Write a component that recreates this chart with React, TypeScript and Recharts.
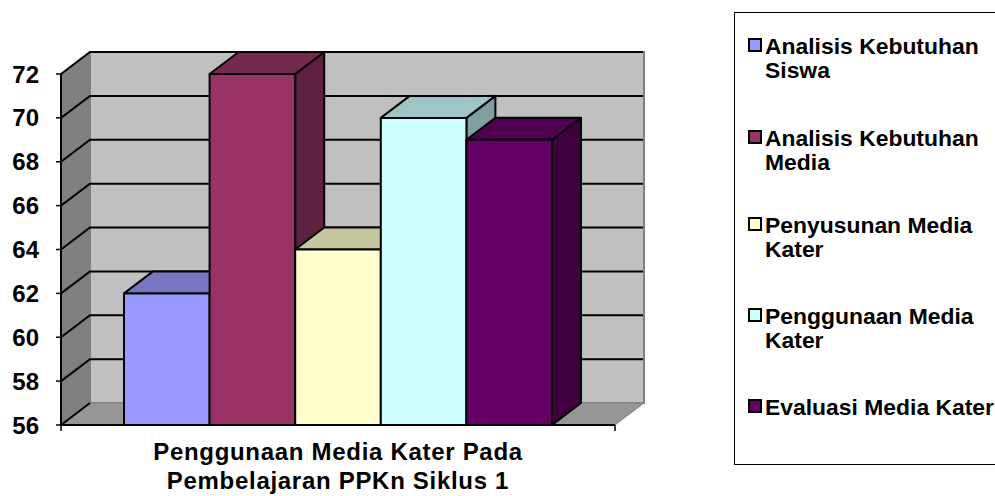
import { BarChart, Bar, XAxis, YAxis, Legend, ReferenceArea, ReferenceLine } from "recharts";

const categoryLines = ["Penggunaan Media Kater Pada", "Pembelajaran PPKn Siklus 1"];
const category = categoryLines.join(" ");
const seriesNames = [
  "Analisis Kebutuhan Siswa",
  "Analisis Kebutuhan Media",
  "Penyusunan Media Kater",
  "Penggunaan Media Kater",
  "Evaluasi Media Kater",
];
const seriesValues = [62, 72, 64, 70, 69];
const seriesColors = ["#9999ff", "#993366", "#ffffcc", "#ccffff", "#660066"];
const topColors = ["#7777c6", "#772850", "#c6c69f", "#9fc6c6", "#4f004f"];
const sideColors = ["#60609f", "#602040", "#a0a080", "#80a0a0", "#400040"];
const yTicks = [56, 58, 60, 62, 64, 66, 68, 70, 72];

const DX = 29;
const DY = 22;
const FONT = "'Liberation Sans', Arial, sans-serif";

const row: Record<string, string | number> = { name: category };
seriesNames.forEach((n, i) => (row[n] = seriesValues[i]));
const data = [row];

// front face plus the top and side faces of the fake 3D box
const makeBox = (i: number) => (props: any) => {
  const { x, y, width, height } = props;
  const r = x + width;
  const b = y + height;
  return (
    <g stroke="#000" strokeWidth={2} strokeLinejoin="round">
      <polygon points={`${r},${y} ${r + DX},${y - DY} ${r + DX},${b - DY} ${r},${b}`} fill={sideColors[i]} />
      <polygon points={`${x},${y} ${x + DX},${y - DY} ${r + DX},${y - DY} ${r},${y}`} fill={topColors[i]} />
      <rect x={x} y={y} width={width} height={height} fill={seriesColors[i]} />
    </g>
  );
};

const Walls = (props: any) => {
  const { x, y, width, height } = props;
  const r = x + width;
  const b = y + height;
  return (
    <g>
      <polygon
        points={`${x + DX},${y - DY} ${r + DX},${y - DY} ${r + DX},${b - DY} ${x + DX},${b - DY}`}
        fill="#c0c0c0"
        stroke="#808080"
        strokeWidth={2}
      />
      <polygon points={`${x},${y} ${x + DX},${y - DY} ${x + DX},${b - DY} ${x},${b}`} fill="#808080" />
      <polygon points={`${x},${b} ${x + DX},${b - DY} ${r + DX},${b - DY} ${r},${b}`} fill="#969696" stroke="#808080" />
      <line x1={x} y1={b} x2={x + DX} y2={b - DY} stroke="#000" strokeWidth={2} />
      <line x1={x} y1={b} x2={x} y2={b + 6} stroke="#000" strokeWidth={1.5} />
      <line x1={r} y1={b} x2={r} y2={b + 6} stroke="#000" strokeWidth={1.5} />
    </g>
  );
};

const GridLine = (props: any) => {
  const { x1, y1, x2 } = props;
  return (
    <polyline
      points={`${x1},${y1} ${x1 + DX},${y1 - DY} ${x2 + DX - 1},${y1 - DY}`}
      fill="none"
      stroke="#000"
      strokeWidth={2}
    />
  );
};

const CategoryTick = (props: any) => {
  const { x, y } = props;
  return (
    <text
      x={x}
      y={y}
      textAnchor="middle"
      fontFamily={FONT}
      fontWeight="bold"
      fontSize={24}
      letterSpacing={0.7}
      fill="#000"
    >
      {categoryLines.map((line, i) => (
        <tspan key={line} x={x} dy={i === 0 ? 27 : 29}>
          {line}
        </tspan>
      ))}
    </text>
  );
};

const legendRows = [
  ["Analisis Kebutuhan", "Siswa"],
  ["Analisis Kebutuhan", "Media"],
  ["Penyusunan Media", "Kater"],
  ["Penggunaan Media", "Kater"],
  ["Evaluasi Media Kater"],
];
const legendTops = [33, 125, 212, 303, 394];

const LegendBox = (props: any) => {
  const payload = props.payload ?? [];
  return (
    <div
      style={{
        position: "relative",
        width: 300,
        height: 453,
        boxSizing: "border-box",
        border: "1.5px solid #000",
        fontFamily: FONT,
        fontWeight: "bold",
        fontSize: 22.9,
        lineHeight: "24px",
        color: "#000",
      }}
    >
      {payload.map((entry: any, i: number) => (
        <div key={entry.value} style={{ position: "absolute", left: 30, top: legendTops[i] - 12, whiteSpace: "nowrap" }}>
          <span
            style={{
              position: "absolute",
              left: -17,
              top: 4,
              width: 10,
              height: 10,
              border: "2px solid #000",
              background: seriesColors[i],
            }}
          />
          {legendRows[i].map((t) => (
            <div key={t}>{t}</div>
          ))}
        </div>
      ))}
    </div>
  );
};

export default function App() {
  return (
    <div style={{ position: "absolute", left: 0, top: 0, width: 995, height: 496, overflow: "hidden", background: "#fff" }}>
      <BarChart
        width={995}
        height={496}
        data={data}
        margin={{ top: 74, right: 380, bottom: 0, left: 0 }}
        barSize={85.6}
        barGap={0}
      >
        <ReferenceArea
          x1={category}
          x2={category}
          y1={56}
          y2={72}
          shape={Walls}
          ifOverflow="visible"
          zIndex={-100}
        />
        {yTicks.slice(1).map((t) => (
          <ReferenceLine key={t} y={t} shape={GridLine} ifOverflow="visible" zIndex={-90} />
        ))}
        <XAxis
          dataKey="name"
          height={71}
          tick={CategoryTick}
          tickLine={false}
          axisLine={{ stroke: "#000", strokeWidth: 2 }}
        />
        <YAxis
          domain={[56, 72]}
          ticks={yTicks}
          width={61}
          interval={0}
          tickSize={5}
          tickMargin={17}
          axisLine={{ stroke: "#000", strokeWidth: 2 }}
          tickLine={{ stroke: "#000", strokeWidth: 1.5 }}
          tick={{ fontFamily: FONT, fontWeight: "bold", fontSize: 24, fill: "#000" }}
        />
        <Legend
          layout="vertical"
          align="center"
          verticalAlign="middle"
          content={LegendBox}
          wrapperStyle={{ left: 734, top: 12, width: 300, height: 453 }}
        />
        {seriesNames.map((n, i) => (
          <Bar key={n} dataKey={n} fill={seriesColors[i]} shape={makeBox(i)} isAnimationActive={false} />
        ))}
      </BarChart>
    </div>
  );
}
